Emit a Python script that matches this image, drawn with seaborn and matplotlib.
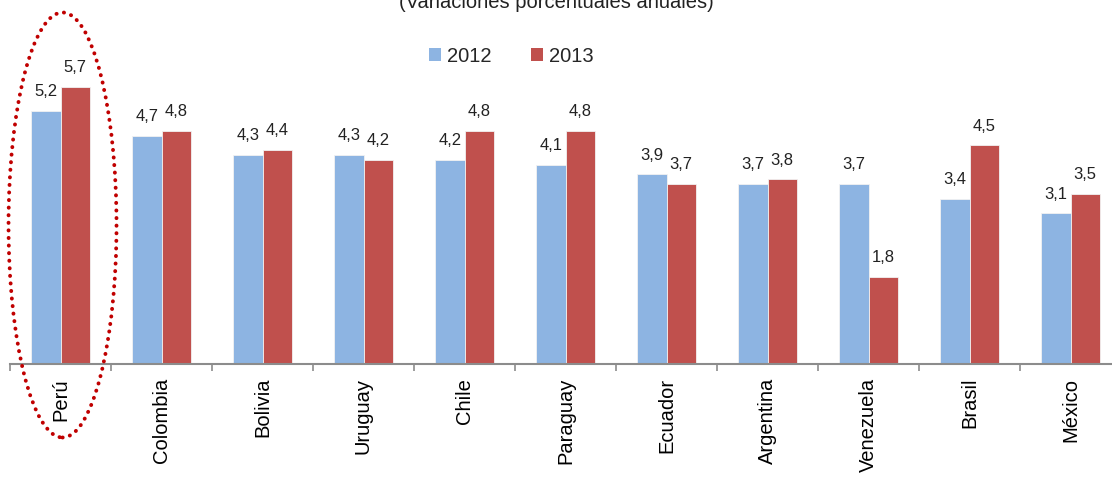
import matplotlib
matplotlib.use("Agg")
import matplotlib.pyplot as plt
from matplotlib.patches import Ellipse, Patch
from matplotlib.ticker import FixedLocator
import seaborn as sns
import pandas as pd

countries = ["Perú", "Colombia", "Bolivia", "Uruguay", "Chile", "Paraguay",
             "Ecuador", "Argentina", "Venezuela", "Brasil", "México"]
v2012 = [5.2, 4.7, 4.3, 4.3, 4.2, 4.1, 3.9, 3.7, 3.7, 3.4, 3.1]
v2013 = [5.7, 4.8, 4.4, 4.2, 4.8, 4.8, 3.7, 3.8, 1.8, 4.5, 3.5]
years = ["2012", "2013"]
title = "(Variaciones porcentuales anuales)"

df = pd.DataFrame({
    "country": countries * 2,
    "value": v2012 + v2013,
    "year": [years[0]] * len(countries) + [years[1]] * len(countries),
})

sns.set_style("white")
plt.rcParams["font.family"] = ["Liberation Sans", "DejaVu Sans"]

W, H = 1112, 478
fig = plt.figure(figsize=(W / 100, H / 100), dpi=100)
ax = fig.add_axes([10 / W, (H - 364) / H, 11 * 101 / W, 364 / H])

colors = {"2012": "#8DB4E2", "2013": "#C0504D"}
sns.barplot(data=df, x="country", y="value", hue="year", order=countries,
            hue_order=years, palette=colors, saturation=1, width=0.575, gap=0,
            edgecolor="#F2F2F2", linewidth=0.6, ax=ax, legend=False)

ax.set_xlim(-0.5, len(countries) - 0.5)
ax.set_ylim(0, 7.49)
ax.set_xlabel("")
ax.set_ylabel("")
ax.set_yticks([])
for s in ["top", "left", "right"]:
    ax.spines[s].set_visible(False)
ax.spines["bottom"].set_color("#8C8C8C")
ax.spines["bottom"].set_linewidth(1.5)

ax.tick_params(axis="x", which="major", length=0, pad=10, labelsize=14.5,
               labelrotation=90, labelcolor="black", bottom=True)
ax.xaxis.set_minor_locator(FixedLocator([i - 0.5 for i in range(len(countries) + 1)]))
ax.tick_params(axis="x", which="minor", length=5, width=1.2, color="#8C8C8C",
               direction="out", bottom=True)

for cont, vals in zip(ax.containers, [v2012, v2013]):
    ax.bar_label(cont, labels=[f"{v:.1f}".replace(".", ",") for v in vals],
                 padding=8.5, fontsize=12, color="#222222")

handles = [Patch(facecolor=colors[y], edgecolor="none") for y in years]
fig.legend(handles, years, loc="center", bbox_to_anchor=(511 / W, 1 - 56 / H),
           ncol=2, frameon=False, fontsize=14.5, handlelength=0.6,
           handleheight=0.6, handletextpad=0.3, columnspacing=1.95)

fig.text(556 / W, 1 - 8 / H, title, ha="center", va="baseline", fontsize=14.5,
         color="#222222")

ell = Ellipse((0.02, (364 - 225) / 48.6), width=108 / 101, height=425 / 48.6,
              fill=False, edgecolor="#C00000", linewidth=2.8,
              linestyle=(0, (0.05, 1.9)), clip_on=False, zorder=5)
ell.set_capstyle("round")
ax.add_patch(ell)

fig.savefig("out.png", dpi=100)
